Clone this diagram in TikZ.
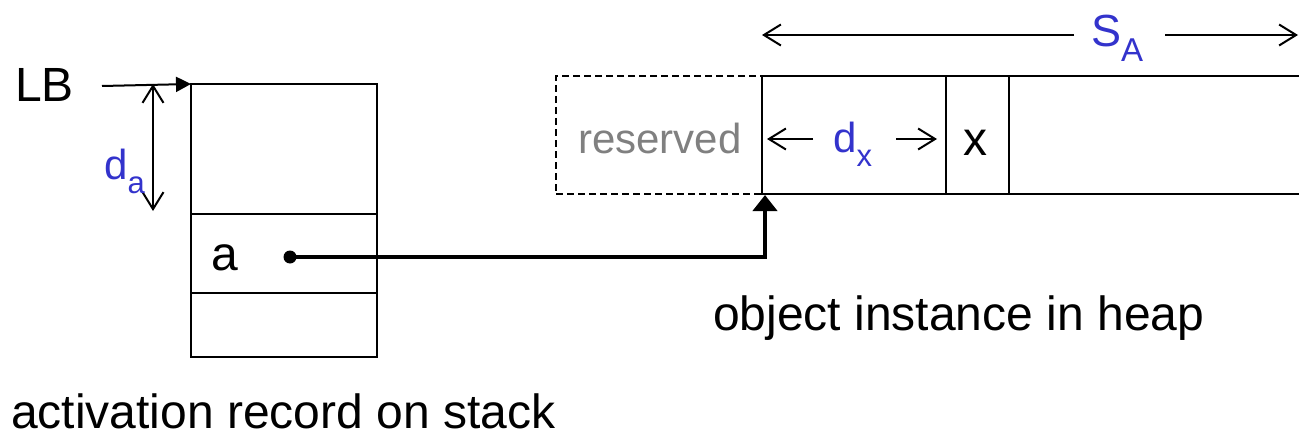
\documentclass[tikz,border=0pt]{standalone}
\usepackage{fontspec}
\setmainfont{Liberation Sans}
\usetikzlibrary{arrows.meta}
\definecolor{labelblue}{RGB}{51,51,204}
\definecolor{reservedgray}{RGB}{128,128,128}
% symbol with a lowered index: {symbol}{index}{index size}{drop}
\newcommand\idx[4]{#1\raisebox{-#4pt}{\fontsize{#3}{#3}\selectfont #2}}
\tikzset{
  cell/.style={draw, line width=2pt, inner sep=0pt, outer sep=0pt, anchor=north west},
  txt/.style={inner sep=0pt, font=\fontsize{48}{48}\selectfont},
  dimlabel/.style={inner sep=0pt, text=labelblue, font=\fontsize{42}{42}\selectfont},
  dimarrow/.style={line width=2pt, {Straight Barb[length=17pt,width=21pt]}-{Straight Barb[length=17pt,width=21pt]}},
  onearrow/.style={line width=2pt, -{Straight Barb[length=17pt,width=21pt]}},
}
\begin{document}
\begin{tikzpicture}[x=1pt,y=-1pt]
\useasboundingbox (0,0) rectangle (1299,436);

% activation record on the stack
\node[cell, minimum width=186pt, minimum height=130pt] (top) at (191,84) {};
\node[cell, minimum width=186pt, minimum height=79pt] (acell) at (191,214) {};
\node[cell, minimum width=186pt, minimum height=64pt] (bottom) at (191,293) {};
\node[txt, anchor=base west] (aname) at (211,270) {a};
\node[circle, fill, inner sep=0pt, minimum size=13pt] (dot) at (290,257) {};

% LB pointer and offset d_a
\node[txt, anchor=base west] (LB) at (15,102) {LB};
\coordinate (lbtail) at (102,86);
\draw[line width=2pt, -{Triangle[length=15pt,width=15pt]}] (lbtail) -- (top.north west);
\coordinate (datop) at (153,84);
\coordinate (dabot) at (153,211);
\draw[dimarrow] (datop) -- (dabot);
\node[dimlabel, anchor=base west] (da) at (104,179) {\idx{d}{a}{31}{14}};

% object instance in the heap
\node[cell, dashed, dash pattern=on 7pt off 4pt, minimum width=206pt, minimum height=118pt] (reserved) at (556,76) {};
\node[cell, minimum width=184pt, minimum height=118pt] (dxcell) at (762,76) {};
\node[cell, minimum width=63pt, minimum height=118pt] (xcell) at (946,76) {};
\draw[line width=2pt] (xcell.north east) -- ++(300,0);
\draw[line width=2pt] (xcell.south east) -- ++(300,0);
\node[inner sep=0pt, text=reservedgray, font=\fontsize{42}{42}\selectfont, anchor=base] (restext) at (660,153) {reserved};
\node[txt, anchor=base] (xname) at (975,155) {x};

% offset d_x
\node[dimlabel, anchor=base west] (dx) at (833,152) {\idx{d}{x}{31}{14}};
\coordinate (dxl) at (767,139);
\coordinate (dxr) at (937,139);
\draw[onearrow] (813,139) -- (dxl);
\draw[onearrow] (896,139) -- (dxr);

% size S_A
\node[dimlabel, anchor=base west, font=\fontsize{45}{45}\selectfont] (sa) at (1091,47) {\idx{S}{A}{33}{15}};
\coordinate (sal) at (762,35);
\coordinate (sar) at (1298,35);
\draw[onearrow] (1074,35) -- (sal);
\draw[onearrow] (1165,35) -- (sar);

% pointer from a to the object
\coordinate (objtip) at (765,195);
\draw[line width=4pt, -{Triangle[length=16pt,width=24pt]}] (dot.center) -| (objtip);

% captions
\node[txt, anchor=base west] (heapcap) at (713,330) {object instance in heap};
\node[txt, anchor=base west] (stackcap) at (11,428) {activation record on stack};
\end{tikzpicture}
\end{document}
